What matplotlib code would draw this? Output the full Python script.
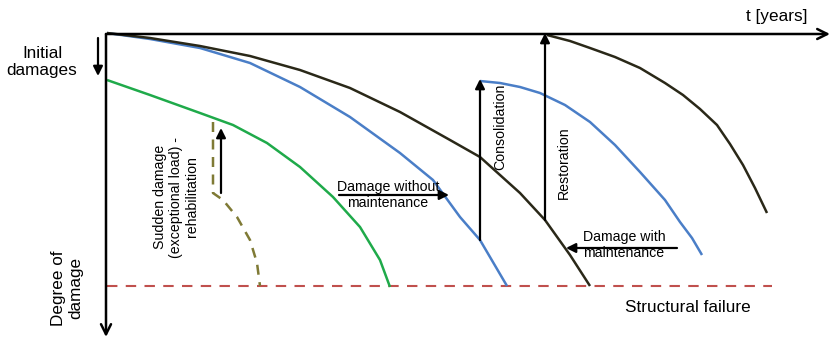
import matplotlib
matplotlib.use("Agg")
import matplotlib.pyplot as plt

plt.rcParams['font.family'] = ['Liberation Sans', 'DejaVu Sans']

# curve points (pixel coords, y downward)
blk1_x = [107, 150, 200, 250, 300, 350, 400, 450, 480, 520, 545, 570, 590]
blk1_y = [33, 38, 46, 56, 70, 88, 112, 140, 157, 193, 220, 255, 286]

blu1_x = [107, 150, 200, 250, 300, 350, 400, 433, 460, 480, 507]
blu1_y = [33, 39, 48, 63, 87, 117, 153, 180, 217, 240, 286]

grn_x = [107, 150, 200, 233, 267, 300, 333, 360, 380, 390]
grn_y = [80, 95, 113, 125, 143, 167, 197, 227, 260, 287]

sud_x = [213, 213, 223, 237, 250, 257, 260]
sud_y = [122, 193, 200, 217, 240, 263, 286]

blu2_x = [480, 500, 520, 540, 565, 590, 615, 640, 665, 680, 692, 702]
blu2_y = [81, 83, 87, 93, 105, 122, 145, 172, 200, 222, 238, 255]

blk2_x = [547, 570, 590, 615, 640, 665, 683, 700, 717, 730, 743, 755, 767]
blk2_y = [35, 41, 48, 57, 68, 83, 95, 109, 125, 144, 165, 188, 213]

fail_y = 286


def arrow(ax, x0, y0, x1, y1, style='-|>', lw=1.6, ms=14):
    ax.annotate('', xy=(x1, y1), xytext=(x0, y0),
                arrowprops=dict(arrowstyle=style, color='black', lw=lw,
                                mutation_scale=ms, shrinkA=0, shrinkB=0))


def main():
    fig = plt.figure(figsize=(8.31, 3.38), dpi=100)
    ax = fig.add_axes([0, 0, 1, 1])
    ax.set_xlim(0, 831)
    ax.set_ylim(338, 0)
    ax.axis('off')

    # axes
    arrow(ax, 106, 34, 830, 34, style='->', lw=1.8, ms=18)
    arrow(ax, 106, 34, 106, 337, style='->', lw=1.8, ms=18)

    ax.plot([107, 772], [fail_y, fail_y], color='#C0504D', lw=1.5,
            dashes=(5, 4))

    kw = dict(lw=1.8, solid_joinstyle='round', solid_capstyle='butt')
    ax.plot(grn_x, grn_y, color='#1FAA4A', **kw)
    ax.plot(sud_x, sud_y, color='#7F7A35', lw=1.8, dashes=(4, 3))
    ax.plot(blu1_x, blu1_y, color='#4A7EC7', **kw)
    ax.plot(blu2_x, blu2_y, color='#4A7EC7', **kw)
    ax.plot(blk1_x, blk1_y, color='#2A2818', **kw)
    ax.plot(blk2_x, blk2_y, color='#2A2818', **kw)

    # arrows
    arrow(ax, 98, 38, 98, 76)
    arrow(ax, 221, 193, 221, 128)
    arrow(ax, 480, 240, 480, 79)
    arrow(ax, 545, 220, 545, 33)
    arrow(ax, 339, 195, 449, 195)
    arrow(ax, 677, 248, 566, 248)

    fs = 12.3
    ax.text(777, 17, 't [years]', fontsize=fs, ha='center', va='center')
    ax.text(42, 62, 'Initial\ndamages', fontsize=fs, ha='center',
            va='center', linespacing=1.2)
    ax.text(67, 288, 'Degree of\ndamage', fontsize=fs, ha='center',
            va='center', rotation=90, linespacing=1.2)
    ax.text(688, 307, 'Structural failure', fontsize=fs, ha='center',
            va='center')

    fs2 = 10.2
    ax.text(388, 195, 'Damage without\nmaintenance', fontsize=fs2,
            ha='center', va='center', linespacing=1.25)
    ax.text(624, 245, 'Damage with\nmaintenance', fontsize=fs2,
            ha='center', va='center', linespacing=1.25)
    ax.text(176, 197, 'Sudden damage\n(exceptional load) -\nrehabilitation',
            fontsize=fs2, ha='center', va='center', rotation=90,
            linespacing=1.15)
    ax.text(500, 127, 'Consolidation', fontsize=fs2, ha='center',
            va='center', rotation=90)
    ax.text(564, 163, 'Restoration', fontsize=fs2, ha='center',
            va='center', rotation=90)

    fig.savefig('out.png', dpi=100)


if __name__ == "__main__":
    main()
